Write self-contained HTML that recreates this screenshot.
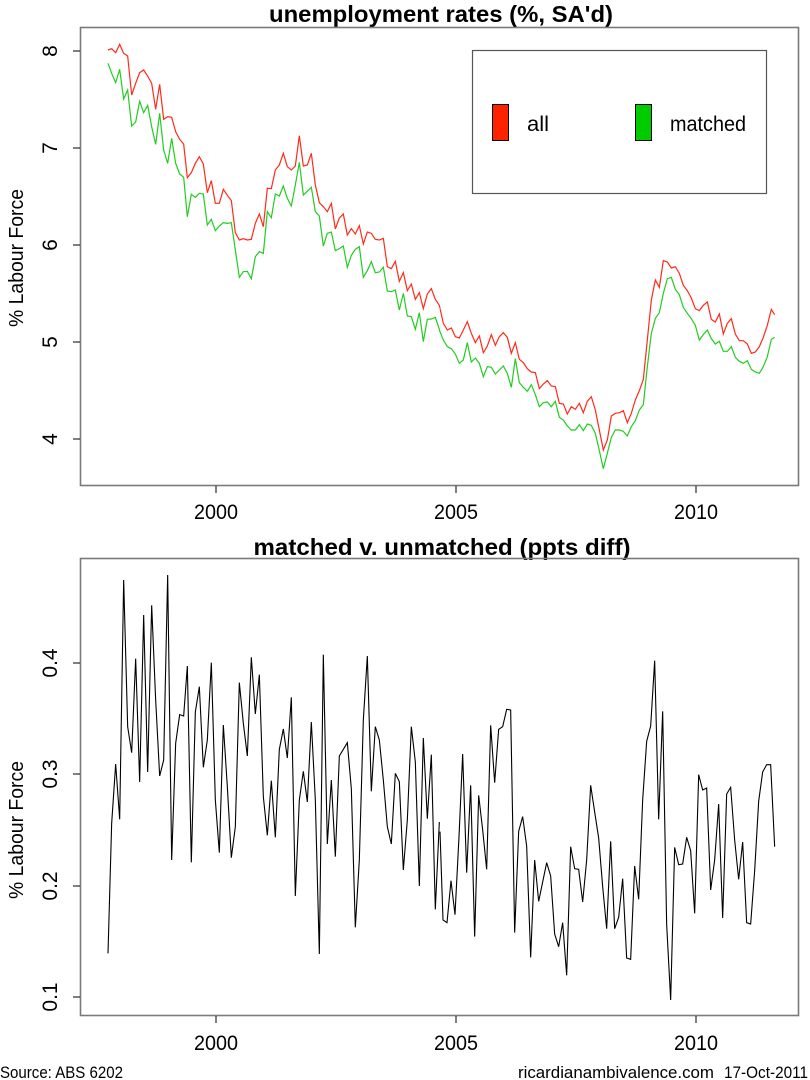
<!DOCTYPE html>
<html><head><meta charset="utf-8"><style>
html,body{margin:0;padding:0;background:#fff;}
svg{display:block;font-family:"Liberation Sans",Arial,sans-serif;}
</style></head><body>
<svg width="810" height="1080" viewBox="0 0 810 1080" xmlns="http://www.w3.org/2000/svg">
<rect width="810" height="1080" fill="#fff"/>
<!-- TOP PANEL -->
<text x="441" y="22" font-size="23" font-weight="bold" text-anchor="middle" textLength="344" lengthAdjust="spacingAndGlyphs">unemployment rates (%, SA'd)</text>
<rect x="80.5" y="27.5" width="718" height="458" fill="none" stroke="#7a7a7a" stroke-width="1.6"/>
<g stroke="#000" stroke-width="1">
<line x1="73" y1="51" x2="80" y2="51"/><line x1="73" y1="148" x2="80" y2="148"/><line x1="73" y1="245" x2="80" y2="245"/><line x1="73" y1="342" x2="80" y2="342"/><line x1="73" y1="439" x2="80" y2="439"/>
<line x1="216" y1="486" x2="216" y2="493"/><line x1="456" y1="486" x2="456" y2="493"/><line x1="696" y1="486" x2="696" y2="493"/>
</g>
<g font-size="21" text-anchor="middle">
<text transform="translate(57,51) rotate(-90)">8</text>
<text transform="translate(57,148) rotate(-90)">7</text>
<text transform="translate(57,245) rotate(-90)">6</text>
<text transform="translate(57,342) rotate(-90)">5</text>
<text transform="translate(57,439) rotate(-90)">4</text>
<text x="216" y="519" textLength="44" lengthAdjust="spacingAndGlyphs">2000</text><text x="456" y="519" textLength="44" lengthAdjust="spacingAndGlyphs">2005</text><text x="696" y="519" textLength="44" lengthAdjust="spacingAndGlyphs">2010</text>
</g>
<text transform="translate(23,258) rotate(-90)" font-size="20" text-anchor="middle" textLength="138" lengthAdjust="spacingAndGlyphs">% Labour Force</text>
<!-- legend -->
<rect x="472.5" y="50.5" width="294" height="143" fill="none" stroke="#555" stroke-width="1.2"/>
<rect x="492.5" y="104.5" width="16" height="36" fill="#ff2200" stroke="#000"/>
<rect x="635.5" y="104.5" width="16" height="36" fill="#00cc00" stroke="#000"/>
<text x="527" y="131" font-size="21" textLength="22" lengthAdjust="spacingAndGlyphs">all</text>
<text x="670" y="131" font-size="21" textLength="76" lengthAdjust="spacingAndGlyphs">matched</text>
<!-- red series -->
<g fill="none" stroke="#ff2a1a" stroke-width="1.2">
<polyline vector-effect="non-scaling-stroke" transform="translate(79,30) scale(0.33333)" points="87,60 98,56 110,68 122,43 134,70 146,78 158,195 170,160 182,128 194,120 206,138 218,160 230,238 242,163 254,268 266,260 278,262 290,305 302,328 314,342 325,443 337,428 349,400 361,380 373,402 385,488 397,452 409,520 421,520 433,478 445,496 457,512 469,608 481,630 493,626 505,630 517,628 529,580 541,552 553,590 565,475 577,476 589,420 601,405 613,370 625,410 637,420 649,408 661,317 673,408 685,405 697,370 709,465 721,518 733,530 745,545 757,520 769,597 781,564 793,552 805,615 817,596 829,612 841,587 853,642 865,606 877,610 889,628 901,630 913,625 925,710 937,716 949,694 961,754 973,728 985,782 997,762 1009,808 1021,788 1033,836 1045,792 1057,776 1069,808 1081,826 1083,834"/>
<polyline vector-effect="non-scaling-stroke" transform="translate(440,200) scale(0.33333)" points="0,325 10,370 22,390 34,384 46,410 58,414 70,390 82,365 94,400 106,428 118,408 130,458 142,438 154,404 166,436 178,410 190,398 202,412 214,460 226,428 238,478 250,488 262,506 274,516 286,518 298,566 310,552 322,542 334,558 346,560 358,610 370,612 382,642 394,620 406,628 418,610 430,638 442,604 454,590 466,630 478,690 490,750 502,720 514,648 526,640 538,638 550,632 562,668 574,640 586,600 598,572 610,538 622,420 634,300 646,240 658,262 670,182 682,186 694,204 706,200 718,220 730,256 742,272 754,294 766,326 778,332 790,316 802,306 814,358 826,366 838,342 850,402 862,370 874,356 886,402 898,422 910,422 922,432 934,460 946,456 958,440 970,412 982,376 994,328 1004,344"/>
</g>
<!-- green series -->
<g fill="none" stroke="#22cc22" stroke-width="1.2">
<polyline vector-effect="non-scaling-stroke" transform="translate(79,30) scale(0.33333)" points="87,100 98,130 110,158 122,118 134,207 146,180 158,288 170,276 182,214 194,248 206,226 218,290 230,343 242,250 254,360 266,400 278,325 290,400 302,432 314,442 325,560 337,493 349,502 361,490 373,492 385,585 397,568 409,602 421,588 433,578 445,580 457,578 469,660 481,742 493,725 505,724 517,746 529,680 541,665 553,670 565,545 577,563 589,492 601,498 613,468 625,505 637,528 649,465 661,397 673,495 685,484 697,472 709,545 721,558 733,648 745,610 757,606 769,662 781,656 793,648 805,712 817,676 829,658 841,650 853,742 865,722 877,695 889,728 901,726 913,712 925,783 937,785 949,780 961,840 973,790 985,858 997,860 1009,898 1021,848 1033,935 1045,868 1057,867 1069,862 1081,898 1083,905"/>
<polyline vector-effect="non-scaling-stroke" transform="translate(440,200) scale(0.33333)" points="0,395 10,420 22,440 34,446 46,462 58,490 70,480 82,428 94,486 106,474 118,490 130,530 142,500 154,502 166,522 178,510 190,498 202,520 214,562 226,476 238,548 250,562 262,574 274,554 286,584 298,620 310,608 322,606 334,620 346,604 358,652 370,660 382,678 394,690 406,690 418,674 430,692 442,672 454,676 466,700 478,752 490,806 502,760 514,712 526,690 538,690 550,694 562,708 574,680 586,662 598,630 610,614 622,500 634,400 646,355 658,338 670,280 682,236 694,232 706,268 718,284 730,322 742,340 754,356 766,376 778,420 790,404 802,390 814,416 826,432 838,424 850,454 862,454 874,440 886,472 898,484 910,490 922,482 934,508 946,516 958,520 970,500 982,470 994,418 1004,412"/>
</g>
<!-- BOTTOM PANEL -->
<text x="442" y="555" font-size="23" font-weight="bold" text-anchor="middle" textLength="377" lengthAdjust="spacingAndGlyphs">matched v. unmatched (ppts diff)</text>
<rect x="80.5" y="558.5" width="718" height="457" fill="none" stroke="#7a7a7a" stroke-width="1.6"/>
<g stroke="#000" stroke-width="1">
<line x1="73" y1="663" x2="80" y2="663"/><line x1="73" y1="774" x2="80" y2="774"/><line x1="73" y1="886" x2="80" y2="886"/><line x1="73" y1="997" x2="80" y2="997"/>
<line x1="216" y1="1016" x2="216" y2="1023"/><line x1="456" y1="1016" x2="456" y2="1023"/><line x1="696" y1="1016" x2="696" y2="1023"/>
</g>
<g font-size="21" text-anchor="middle">
<text transform="translate(57,663) rotate(-90)">0.4</text>
<text transform="translate(57,774) rotate(-90)">0.3</text>
<text transform="translate(57,886) rotate(-90)">0.2</text>
<text transform="translate(57,997) rotate(-90)">0.1</text>
<text x="216" y="1050" textLength="44" lengthAdjust="spacingAndGlyphs">2000</text><text x="456" y="1050" textLength="44" lengthAdjust="spacingAndGlyphs">2005</text><text x="696" y="1050" textLength="44" lengthAdjust="spacingAndGlyphs">2010</text>
</g>
<text transform="translate(23,830) rotate(-90)" font-size="20" text-anchor="middle" textLength="138" lengthAdjust="spacingAndGlyphs">% Labour Force</text>
<g fill="none" stroke="#000" stroke-width="1.1">
<polyline vector-effect="non-scaling-stroke" transform="translate(79,560) scale(0.33333)" points="87,1180 98,790 110,612 122,778 134,60 146,500 158,578 170,296 182,666 194,165 206,636 218,136 230,420 242,648 254,600 266,45 278,900 290,550 302,464 314,468 325,318 337,907 349,456 361,380 373,622 385,540 397,308 409,720 421,878 433,495 445,680 457,893 469,800 481,368 493,490 505,588 517,292 529,462 541,344 553,710 565,826 577,662 589,832 601,568 613,507 625,594 637,412 649,1008 661,720 673,634 685,726 697,486 709,720 721,1182 733,284 745,852 757,660 769,890 781,588 805,548 817,686 829,1102 841,900 853,480 865,288 877,694 889,500 901,540 913,660 925,800 937,852 949,640 961,665 973,930 985,780 997,500 1009,606 1021,978 1033,534 1045,776 1057,584 1069,1048 1081,786"/>
<polyline vector-effect="non-scaling-stroke" transform="translate(440,560) scale(0.33333)" points="0,815 9,1080 21,1088 33,962 45,1064 57,830 68,582 80,938 92,676 104,1130 116,706 128,810 140,928 152,496 164,668 176,508 188,500 200,448 212,450 224,1118 236,814 248,770 260,858 272,1192 284,900 296,1024 308,966 320,908 332,948 344,1122 356,1160 368,1088 380,1246 392,860 404,926 416,928 428,1026 440,900 452,676 464,756 476,834 488,980 500,1106 512,844 524,1106 536,1072 548,956 560,1194 572,1198 584,918 596,1018 608,720 620,544 632,498 644,302 656,778 668,454 680,1094 692,1320 704,862 716,914 728,912 740,832 752,872 764,1060 776,644 788,690 800,684 812,990 824,900 836,732 848,1074 860,702 872,682 884,840 896,958 908,846 920,1088 932,1092 944,932 956,724 968,636 980,614 992,614 1004,860"/>
</g>
<text x="0" y="1078" font-size="17" textLength="123" lengthAdjust="spacingAndGlyphs">Source: ABS 6202</text>
<text x="518" y="1078" font-size="17" textLength="196" lengthAdjust="spacingAndGlyphs">ricardianambivalence.com</text>
<text x="808" y="1078" font-size="17" text-anchor="end" textLength="84" lengthAdjust="spacingAndGlyphs">17-Oct-2011</text>
</svg>
</body></html>
